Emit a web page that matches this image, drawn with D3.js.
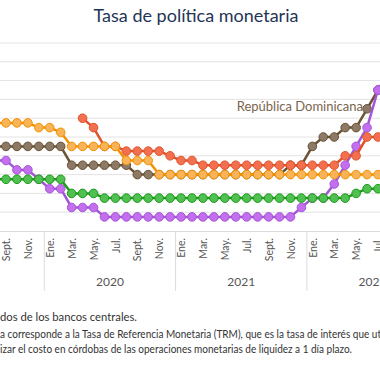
<!DOCTYPE html>
<html><head><meta charset="utf-8">
<script src="https://cdn.jsdelivr.net/npm/d3@7"></script>
<style>html,body{margin:0;padding:0;background:#fff;} svg{display:block;font-family:Lato,"Noto Sans",sans-serif;}</style>
</head><body>
<svg id="chart" width="380" height="380"></svg>
<script>
// ---- data ----
const months = ["2019-08","2019-09","2019-10","2019-11","2019-12",
  "2020-01","2020-02","2020-03","2020-04","2020-05","2020-06","2020-07","2020-08","2020-09","2020-10","2020-11","2020-12",
  "2021-01","2021-02","2021-03","2021-04","2021-05","2021-06","2021-07","2021-08","2021-09","2021-10","2021-11","2021-12",
  "2022-01","2022-02","2022-03","2022-04","2022-05","2022-06","2022-07","2022-08"];
const monthNames = ["Ene.","Feb.","Mar.","Abr.","May.","Jun.","Jul.","Ago.","Sept.","Oct.","Nov.","Dic."];
const tickMonths = ["2019-09","2019-11","2020-01","2020-03","2020-05","2020-07","2020-09","2020-11",
  "2021-01","2021-03","2021-05","2021-07","2021-09","2021-11","2022-01","2022-03","2022-05","2022-07"];
const years = ["2020","2021","2022"];
const yTicks = [1,2,3,4,5,6,7,8,9,10];

const republicaDominicana = [4.5,4.5,4.5,4.5,4.5,4.5,4.5, 3.5,3.5,3.5,3.5,3.5,3.5,
  3,3,3,3,3,3,3,3,3,3,3,3,3,3, 3.5,3.5,4.5,5,5,5.5,5.5,6.5,7.5,8];
const costaRica = [3.75,3.75,3.25,3.25,2.75,2.25,2.25, 1.25,1.25,1.25,
  0.75,0.75,0.75,0.75,0.75,0.75,0.75,0.75,0.75,0.75,0.75,0.75,0.75,0.75,0.75,0.75,0.75,0.75,
  1.25,1.75,1.75,2.5,3.5,4.5,5.5,7.5,8.5];
const nicaragua = [null,null,null,null,null,null,null,null, 6,5.5,4.5,4.5, 4.25,4.25,4.25,4.25, 4,3.75,3.75,
  3.5,3.5,3.5,3.5,3.5,3.5,3.5,3.5,3.5,3.5,3.5,3.5,3.5, 4,4,5,5,5.5];
const honduras = [5.75,5.75,5.75,5.75,5.5,5.5,5.25, 4.5,4.5,4.5,4.5,4.5, 3.75,3.75,3.75,
  3,3,3,3,3,3,3,3,3,3,3,3,3,3,3,3,3,3,3,3,3,3];
const guatemala = [2.75,2.75,2.75,2.75,2.75,2.75,2.75, 2,2,2,
  1.75,1.75,1.75,1.75,1.75,1.75,1.75,1.75,1.75,1.75,1.75,1.75,1.75,1.75,1.75,1.75,1.75,1.75,1.75,1.75,1.75,1.75,1.75,
  2,2.25,2.25,2.5];

const seriesList = [
  {name:"República Dominicana", values:republicaDominicana, line:"#6b5232", fill:"#8c7a67"},
  {name:"Costa Rica", values:costaRica, line:"#a456d8", fill:"#c36fee"},
  {name:"Nicaragua", values:nicaragua, line:"#e0532b", fill:"#f27050"},
  {name:"Honduras", values:honduras, line:"#f39200", fill:"#f9b45a"},
  {name:"Guatemala", values:guatemala, line:"#1c9b1c", fill:"#50c050"}
];

// ---- layout ----
const svg = d3.select("#chart");
const W = 380;
const x = d3.scalePoint().domain(months).range([-4.94, 388.94]);
const step = x.step();
const y = d3.scaleLinear().domain([0,10]).range([231,43]);

svg.append("rect").attr("width",380).attr("height",380).attr("fill","#fff");

// title
svg.append("text").attr("x",196).attr("y",22).attr("text-anchor","middle")
  .attr("font-size",18).attr("fill","#1f3556").text("Tasa de política monetaria");

// gridlines
svg.append("g").selectAll("line").data(yTicks).join("line")
  .attr("x1",0).attr("x2",W).attr("y1",d=>y(d)).attr("y2",d=>y(d))
  .attr("stroke","#e3e3e3").attr("stroke-width",1);

// x axis
const xAxis = d3.axisBottom(x).tickValues(tickMonths).tickSize(0).tickSizeOuter(0)
  .tickFormat(d=>monthNames[+d.slice(5)-1]);
const gx = svg.append("g").attr("transform",`translate(0,${y(0)})`).call(xAxis);
gx.select(".domain").attr("stroke","#dcdcdc");
gx.selectAll("text").attr("transform","rotate(-90)").attr("text-anchor","end")
  .attr("x",-7).attr("y",0).attr("dy","0.35em")
  .attr("font-family","Lato, sans-serif").attr("font-size",10.5).attr("fill","#555");

// year separators and labels
const sepMonths = ["2020-01","2021-01","2022-01"];
svg.append("g").selectAll("line").data(sepMonths).join("line")
  .attr("x1",d=>x(d)-step/2).attr("x2",d=>x(d)-step/2)
  .attr("y1",y(0)).attr("y2",291).attr("stroke","#dcdcdc");
svg.append("g").selectAll("text").data(years).join("text")
  .attr("x",(d,i)=>x(sepMonths[i]) - step/2 + step*6)
  .attr("y",286).attr("text-anchor","middle").attr("font-size",12).attr("fill","#555").text(d=>d);

// series
const line = d3.line().defined(d=>d.v!=null).x(d=>x(d.m)).y(d=>y(d.v));
seriesList.forEach(s=>{
  const pts = s.values.map((v,i)=>({m:months[i], v}));
  const g = svg.append("g");
  g.append("path").datum(pts).attr("d",line).attr("fill","none")
    .attr("stroke",s.line).attr("stroke-width",2.5).attr("stroke-linejoin","round");
  g.selectAll("circle").data(pts.filter(d=>d.v!=null)).join("circle")
    .attr("cx",d=>x(d.m)).attr("cy",d=>y(d.v)).attr("r",4.3)
    .attr("fill",s.fill).attr("stroke",s.line).attr("stroke-width",1);
});

// label
svg.append("text").attr("x",363).attr("y",111).attr("text-anchor","end")
  .attr("font-size",13).attr("fill","#7a644d").text("República Dominicana");

// footnotes
const notes = [
  {t:"dos de los bancos centrales.", y:321, w:137},
  {t:"a corresponde a la Tasa de Referencia Monetaria (TRM), que es la tasa de interés que ut", y:338, w:381},
  {t:"izar el costo en córdobas de las operaciones monetarias de liquidez a 1 día plazo.", y:353, w:352}
];
svg.append("g").selectAll("text").data(notes).join("text")
  .attr("x",0).attr("y",d=>d.y).attr("font-size",10.5).attr("fill","#333")
  .attr("textLength",d=>d.w).attr("lengthAdjust","spacingAndGlyphs").text(d=>d.t);
</script>
</body></html>
